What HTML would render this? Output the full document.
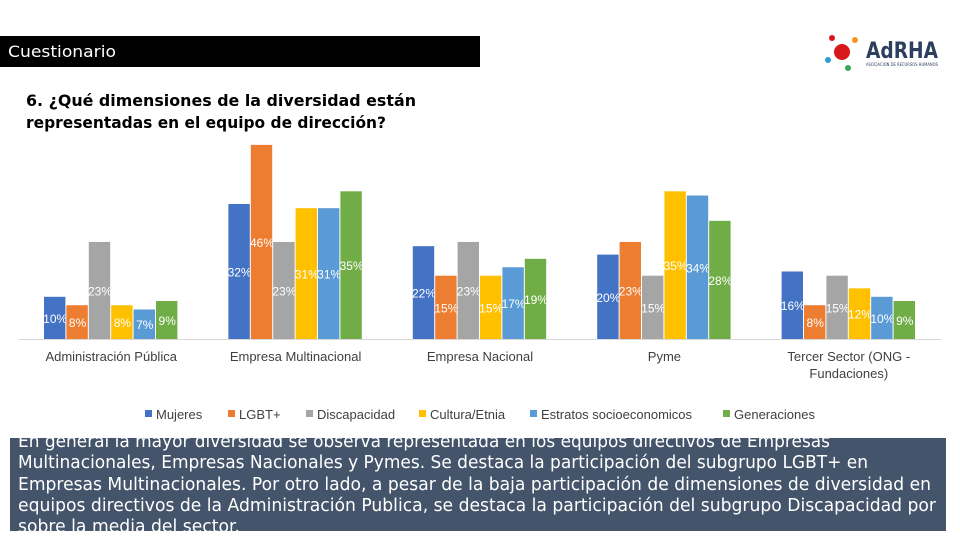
<!DOCTYPE html>
<html><head><meta charset="utf-8">
<style>
body{margin:0;width:960px;height:540px;background:#fff;position:relative;overflow:hidden;font-family:"Liberation Sans",sans-serif}
#hdr{position:absolute;left:0;top:36px;width:480px;height:31px;background:#000}
#box{position:absolute;left:10px;top:438px;width:936px;height:93px;background:#44546a;overflow:hidden}
#logo{position:absolute;left:822px;top:30px}
svg text{font-family:"DejaVu Sans","Liberation Sans",sans-serif}
#chart text{font-family:"Liberation Sans",sans-serif}
</style></head><body>
<div id="hdr">
<svg width="480" height="31"><text x="8" y="21" font-size="16" fill="#fff" textLength="108" lengthAdjust="spacingAndGlyphs">Cuestionario</text></svg></div>
<svg style="position:absolute;left:0;top:85px" width="480" height="50">
<text x="26" y="21" font-size="16" font-weight="bold" fill="#000" textLength="390" lengthAdjust="spacingAndGlyphs">6. ¿Qué dimensiones de la diversidad están</text>
<text x="26" y="43" font-size="16" font-weight="bold" fill="#000" textLength="360" lengthAdjust="spacingAndGlyphs">representadas en el equipo de dirección?</text>
</svg>
<svg id="logo" width="125" height="44">
<circle cx="20" cy="22" r="8" fill="#d7191c"/><circle cx="10" cy="8" r="3" fill="#d7191c"/><circle cx="33" cy="10" r="3" fill="#f7941d"/><circle cx="6" cy="30" r="3" fill="#2a9fd6"/><circle cx="26" cy="38" r="3" fill="#3aa757"/>
<text x="44" y="28" font-size="22" font-weight="bold" fill="#2d3f5e" textLength="72" lengthAdjust="spacingAndGlyphs">AdRHA</text>
<text x="44" y="36" font-size="4" fill="#2d3f5e" textLength="72" lengthAdjust="spacingAndGlyphs">ASOCIACION DE RECURSOS HUMANOS</text>
</svg>
<svg id="chart" width="960" height="430" style="position:absolute;left:0;top:0"></svg>
<div id="box">
<svg width="936" height="93" style="position:absolute;left:0;top:0">
<g fill="#fff" font-size="17.5">
<text x="8" y="9" textLength="812" lengthAdjust="spacingAndGlyphs">En general la mayor diversidad se observa representada en los equipos directivos de Empresas</text>
<text x="8" y="30" textLength="850" lengthAdjust="spacingAndGlyphs">Multinacionales, Empresas Nacionales y Pymes. Se destaca la participación del subgrupo LGBT+ en</text>
<text x="8" y="52" textLength="913" lengthAdjust="spacingAndGlyphs">Empresas Multinacionales. Por otro lado, a pesar de la baja participación de dimensiones de diversidad en</text>
<text x="8" y="73" textLength="918" lengthAdjust="spacingAndGlyphs">equipos directivos de la Administración Publica, se destaca la participación del subgrupo Discapacidad por</text>
<text x="8" y="94" textLength="222" lengthAdjust="spacingAndGlyphs">sobre la media del sector.</text>
</g></svg></div>
<script>
const categories=["Administración Pública","Empresa Multinacional","Empresa Nacional","Pyme","Tercer Sector (ONG -|Fundaciones)"];
const seriesNames=["Mujeres","LGBT+","Discapacidad","Cultura/Etnia","Estratos socioeconomicos","Generaciones"];
const mujeres=[10,32,22,20,16];
const lgbt=[8,46,15,23,8];
const discapacidad=[23,23,23,15,15];
const cultura=[8,31,15,35,12];
const estratos=[7,31,17,34,10];
const generaciones=[9,35,19,28,9];
const series=[mujeres,lgbt,discapacidad,cultura,estratos,generaciones];
const colors=["#4472c4","#ed7d31","#a5a5a5","#ffc000","#5b9bd5","#70ad47"];
const svg=document.getElementById('chart');const NS="http://www.w3.org/2000/svg";
const base=339,left=19,catW=184.4,barW=22.4;
const y=v=>base-v*4.22;
const xCat=i=>left+catW*i+catW/2;
function mk(t,a){const e=document.createElementNS(NS,t);for(const k in a)e.setAttribute(k,a[k]);svg.appendChild(e);return e;}
const ax=mk('line',{x1:left,x2:left+catW*5,y1:base+0.5,y2:base+0.5,stroke:'#d9d9d9'});


categories.forEach((c,i)=>{
  series.forEach((s,j)=>{
    const x=xCat(i)-3*barW+j*barW;
    const r=mk('rect',{x:x,y:y(s[i]),width:barW-1,height:base-y(s[i]),fill:colors[j]});
    
    
    const t=mk('text',{x:x+barW/2,y:(base+y(s[i]))/2+5,'text-anchor':'middle','font-size':12,fill:'#fff'});
    t.textContent=s[i]+'%';
    
    
  });
  c.split('|').forEach((ln,k)=>{
    const t=mk('text',{x:xCat(i),y:361+k*17,'text-anchor':'middle','font-size':13,fill:'#404040'});
    t.textContent=ln;
    
    
  });
});
const lx=[145,228,306,419,530,723];
seriesNames.forEach((n,j)=>{
  const r=mk('rect',{x:lx[j],y:410,width:7,height:7,fill:colors[j]});
  
  
  const t=mk('text',{x:lx[j]+11,y:419,'font-size':13,fill:'#404040'});
  t.textContent=n;
  
  
});
</script>
</body></html>
